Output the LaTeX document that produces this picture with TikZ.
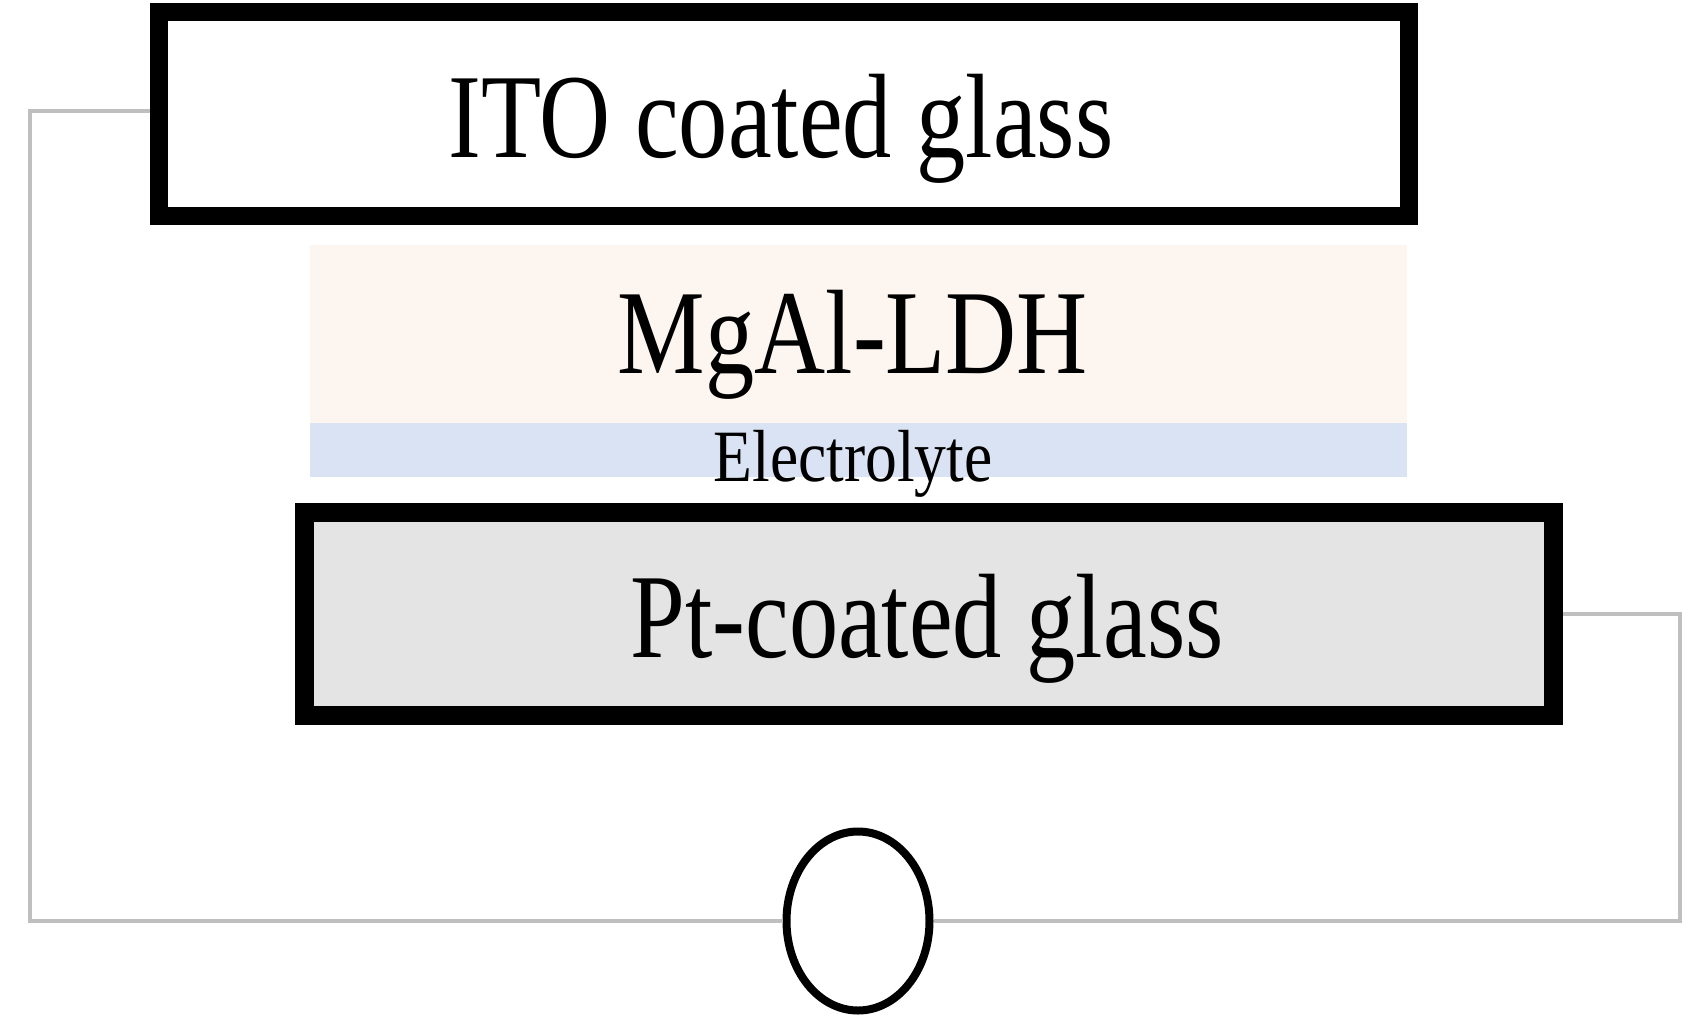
\documentclass[tikz,border=0pt]{standalone}
\usepackage{fontspec}
\setmainfont{Liberation Serif}
\usetikzlibrary{shapes.geometric}

\definecolor{ldhpeach}{HTML}{FDF6F0}
\definecolor{elyteblue}{HTML}{DAE3F3}
\definecolor{ptgray}{HTML}{E4E4E4}
\definecolor{wiregray}{HTML}{BFBFBF}

\newcommand{\tallbig}[1]{\fontsize{28}{30}\selectfont\scalebox{1}[1.22]{#1}}
\newcommand{\tallsmall}[1]{\fontsize{18.1}{20}\selectfont\scalebox{1}[1.16]{#1}}

\begin{document}
\begin{tikzpicture}[
    glass/.style={draw, rectangle, line width=0.18cm, inner sep=0pt},
    layer/.style={rectangle, inner sep=0pt},
    lbl/.style={inner sep=0pt, anchor=base},
    wire/.style={draw=wiregray, line width=0.04cm}]

    \useasboundingbox (0,0) rectangle (16.97,10.35);

    % Layers
    \node[layer, fill=ldhpeach, minimum width=10.97cm, minimum height=1.78cm] (ldh) at (8.585,7.01) {};
    \node[layer, fill=elyteblue, minimum width=10.97cm, minimum height=0.54cm] (elyte) at (8.585,5.85) {};

    % Glass plates
    \node[glass, fill=white, minimum width=12.5cm, minimum height=2.04cm] (ito) at (7.84,9.21) {};
    \node[glass, fill=ptgray, line width=0.19cm, minimum width=12.49cm, minimum height=2.03cm] (pt) at (9.285,4.215) {};

    % Meter
    \node[draw, ellipse, fill=white, line width=0.08cm, inner sep=0pt,
          minimum width=1.43cm, minimum height=1.79cm] (meter) at (8.58,1.14) {};

    % Wires
    \draw[wire] (ito.west) ++(0,0.03) -- ++(-1.2,0) |- (meter.west);
    \draw[wire] (pt.east) -- ++(1.175,0) |- (meter.east);

    % Text
    \node[lbl] (itotext) at (7.81,8.78) {\tallbig{ITO coated glass}};
    \node[lbl] (ldhtext) at (8.53,6.62) {\tallbig{MgAl-LDH}};
    \node[lbl] (elytetext) at (8.53,5.54) {\tallsmall{Electrolyte}};
    \node[lbl] (pttext) at (9.27,3.78) {\tallbig{Pt-coated glass}};

\end{tikzpicture}
\end{document}
